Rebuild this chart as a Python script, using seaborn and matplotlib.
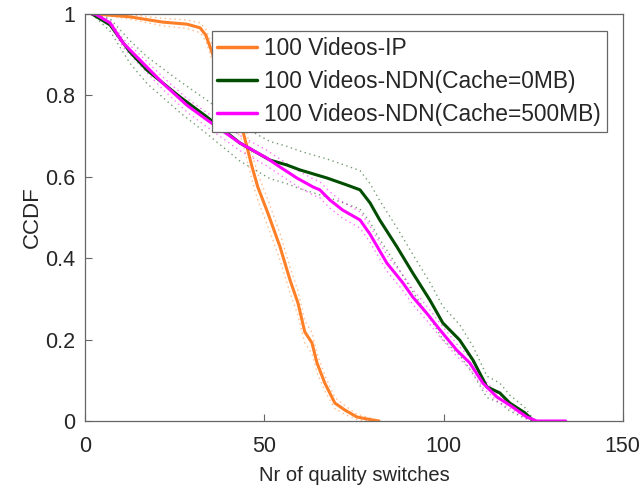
import numpy as np
import pandas as pd
import matplotlib
matplotlib.use("Agg")
import matplotlib.pyplot as plt
import seaborn as sns

# CCDF of the number of quality switches per session
ip_x = [1.95, 2.8, 12.5, 21.7, 28.4, 32.1, 33.7, 36.2, 39.9, 42.4, 43.8, 45.2, 46.6,
        48.2, 51.0, 54.4, 57.2, 59.4, 61.3, 63.3, 64.7, 66.9, 69.7, 72.5, 75.8, 78.6, 82.0]
ip_y = [1.0, 1.0, 0.993, 0.980, 0.975, 0.966, 0.948, 0.887, 0.80, 0.74, 0.72, 0.673, 0.624,
        0.575, 0.511, 0.428, 0.346, 0.29, 0.219, 0.192, 0.143, 0.093, 0.044, 0.027, 0.010, 0.005, 0.0]

ndn0_x = [1.95, 7.0, 12.5, 17.3, 26.5, 34.0, 43.2, 51.6, 56.3, 59.9, 67.5, 73.0, 76.7,
          79.5, 82.2, 87.0, 91.4, 96.2, 99.8, 104.5, 108.2, 112.1, 115.7, 118.5, 122.7, 124.9]
ndn0_y = [1.0, 0.973, 0.907, 0.862, 0.796, 0.747, 0.683, 0.641, 0.629, 0.617, 0.597, 0.580, 0.568,
          0.536, 0.494, 0.428, 0.364, 0.297, 0.241, 0.199, 0.150, 0.084, 0.069, 0.044, 0.020, 0.002]

ndn500_x = [1.95, 2.8, 7.0, 10.6, 15.3, 21.7, 28.4, 34.0, 43.2, 50.7, 54.4, 59.1, 63.6, 65.5,
            68.3, 71.9, 76.7, 79.5, 84.2, 88.7, 91.4, 95.3, 99.0, 103.7, 107.3, 111.0, 114.9,
            118.5, 123.2, 126.0, 134.1]
ndn500_y = [1.0, 1.0, 0.978, 0.929, 0.887, 0.830, 0.776, 0.740, 0.683, 0.646, 0.624, 0.597, 0.575,
            0.568, 0.543, 0.518, 0.494, 0.459, 0.388, 0.339, 0.305, 0.265, 0.224, 0.174, 0.143,
            0.093, 0.059, 0.039, 0.010, 0.0, 0.0]

labels = ["100 Videos-IP", "100 Videos-NDN(Cache=0MB)", "100 Videos-NDN(Cache=500MB)"]
colors = ["#FF7F27", "#004D00", "#FF00FF"]
# number of sessions behind each curve (sets the 95% confidence band)
n_sessions = [880, 425, 2400]

x_ticks = [0, 50, 100, 150]
y_ticks = [0, 0.2, 0.4, 0.6, 0.8, 1]

sns.set_theme(style="white")
plt.rcParams["font.family"] = ["Liberation Sans", "DejaVu Sans"]

fig = plt.figure(figsize=(6.44, 4.99), dpi=100)
ax = fig.add_axes([0.132, 0.1563, 0.835, 0.8157])

series = [(ip_x, ip_y), (ndn0_x, ndn0_y), (ndn500_x, ndn500_y)]
frames = []
for (xs, ys), lab, n in zip(series, labels, n_sessions):
    p = np.array(ys)
    half = 1.96 * np.sqrt(p * (1 - p) / n)
    frames.append(pd.DataFrame({"x": xs, "y": p, "lo": np.clip(p - half, 0, 1),
                                "hi": np.clip(p + half, 0, 1), "series": lab}))
df = pd.concat(frames, ignore_index=True)

# confidence bands as thin dotted lines
for lab, col in zip(labels, colors):
    sub = df[df["series"] == lab]
    for col_name in ("lo", "hi"):
        sns.lineplot(data=sub, x="x", y=col_name, ax=ax, color=col, alpha=0.55,
                     linewidth=1.0, linestyle=(0, (1, 2.5)), legend=False, sort=False)

sns.lineplot(data=df, x="x", y="y", hue="series", hue_order=labels, palette=colors,
             linewidth=2.2, ax=ax, sort=False)

ax.set_xlim(0, 150)
ax.set_ylim(0, 1)
ax.set_xticks(x_ticks)
ax.set_xticklabels([str(t) for t in x_ticks])
ax.set_yticks(y_ticks)
ax.set_yticklabels(["0", "0.2", "0.4", "0.6", "0.8", "1"])
ax.tick_params(axis="x", pad=11)
ax.tick_params(axis="y", pad=7)
ax.tick_params(direction="in", length=5, width=0.8, color="#666666",
               labelsize=15.5, labelcolor="#262626", top=False, right=False,
               left=True, bottom=True)
for s in ax.spines.values():
    s.set_color("#666666")
    s.set_linewidth(0.9)

ax.set_xlabel("Nr of quality switches", fontsize=14.5, color="#262626", labelpad=6)
ax.set_ylabel("CCDF", fontsize=16, color="#262626", labelpad=2)

leg = ax.legend(loc="upper right", bbox_to_anchor=(0.970, 0.958), borderaxespad=0,
                fontsize=16.4, frameon=True, fancybox=False, framealpha=1,
                edgecolor="#666666", handlelength=1.75, handletextpad=0.3,
                labelspacing=0.44, borderpad=0.25, title=None)
leg.get_frame().set_linewidth(0.9)
for line in leg.get_lines():
    line.set_linewidth(2.5)

fig.savefig("out.png", dpi=100)
